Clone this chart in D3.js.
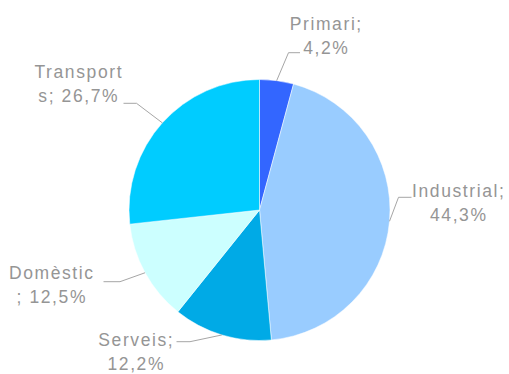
<!DOCTYPE html>
<html><head><meta charset="utf-8">
<script src="https://cdn.jsdelivr.net/npm/d3@7"></script>
<style>html,body{margin:0;padding:0;background:#fff;}svg{display:block;}</style>
</head><body>
<svg id="chart" width="509" height="374"></svg>
<script>
// Data
const categories = ["Primari", "Industrial", "Serveis", "Domèstic", "Transports"];
const values = [4.2, 44.3, 12.2, 12.5, 26.7];
const labelLines = [
  ["Primari;", "4,2%"],
  ["Industrial;", "44,3%"],
  ["Serveis;", "12,2%"],
  ["Domèstic", "; 12,5%"],
  ["Transport", "s; 26,7%"]
];
const colors = ["#3366FF", "#99CCFF", "#00AAE6", "#CCFFFF", "#00CCFF"];

// Layout (label elbow/text placement, pixels)
const cx = 259.5, cy = 210, R = 130.5;
const labelLayout = [
  {ex: 288.5, ey: 52.7, hx: 300, tx: 325.5, ty: 30},
  {ex: 398.5, ey: 197.3, hx: 411.5, tx: 458, ty: 196.7},
  {ex: 190, ey: 341.7, hx: 176.5, tx: 135.5, ty: 346},
  {ex: 120, ey: 281.7, hx: 103.5, tx: 51, ty: 279.3},
  {ex: 136.5, ey: 103.3, hx: 123.5, tx: 78, ty: 78.3}
];

const svg = d3.select("#chart");
const g = svg.append("g").attr("transform", `translate(${cx},${cy})`);

const pie = d3.pie().sort(null).value(d => d)(values);
const arc = d3.arc().innerRadius(0).outerRadius(R);

g.selectAll("path.slice").data(pie).enter().append("path")
  .attr("class", "slice")
  .attr("d", arc)
  .attr("fill", (d, i) => colors[i])
  .attr("stroke", "#fff").attr("stroke-width", 0.5);

// Leader lines and labels
pie.forEach((d, i) => {
  const a = (d.startAngle + d.endAngle) / 2;
  const sx = cx + R * Math.sin(a), sy = cy - R * Math.cos(a);
  const L = labelLayout[i];
  svg.append("polyline")
    .attr("points", `${sx},${sy} ${L.ex},${L.ey} ${L.hx},${L.ey}`)
    .attr("fill", "none").attr("stroke", "#a6a6a6").attr("stroke-width", 1);
  const t = svg.append("text")
    .attr("text-anchor", "middle")
    .attr("font-family", "Liberation Sans, Arial, sans-serif")
    .attr("font-size", "17.5px")
    .attr("letter-spacing", "1.6px")
    .attr("fill", "#959595");
  labelLines[i].forEach((ln, j) => {
    t.append("tspan").attr("x", L.tx + 0.8).attr("y", L.ty + j * 24).text(ln);
  });
});
</script>
</body></html>
